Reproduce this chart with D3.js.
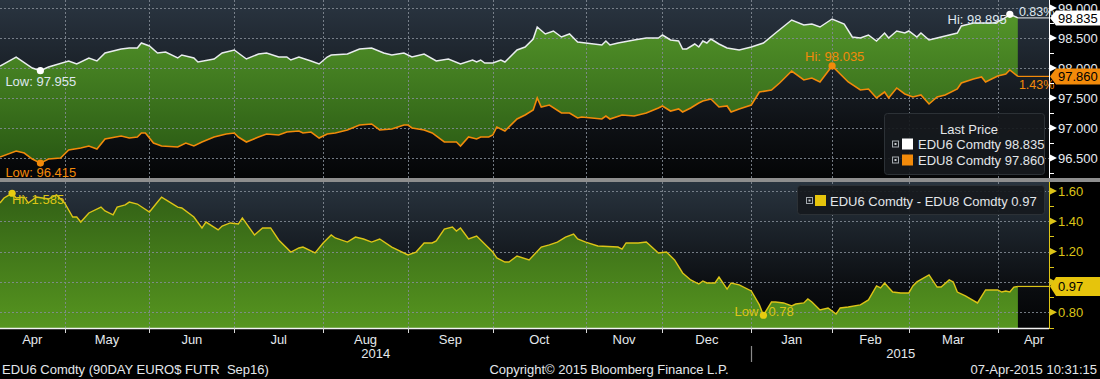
<!DOCTYPE html>
<html><head><meta charset="utf-8">
<script src="https://cdn.jsdelivr.net/npm/d3@7"></script>
<style>body{margin:0;background:#000}svg{display:block}text{font-family:"Liberation Sans",Arial,sans-serif;font-size:12.5px}</style>
</head><body><svg id="c" width="1100" height="379"></svg>
<script>
// ---- DATA (x = trading-day index from 07-Apr-2014) ----
const edu6 = [[0,98.033],[4,98.183],[8,98.000],[10,97.955],[12,98.017],[17,98.117],[19,98.067],[22,98.167],[24,98.117],[26,98.250],[30,98.317],[32,98.333],[34,98.333],[35,98.417],[37,98.367],[39,98.250],[41,98.267],[44,98.167],[45,98.217],[48,98.167],[49,98.100],[53,98.150],[55,98.250],[58,98.300],[59,98.250],[61,98.150],[64,98.233],[66,98.250],[69,98.183],[71,98.183],[72,98.133],[74,98.183],[77,98.117],[79,98.067],[81,98.183],[82,98.217],[86,98.233],[89,98.317],[92,98.333],[95,98.250],[97,98.217],[100,98.250],[102,98.183],[105,98.233],[108,98.117],[111,98.150],[114,98.067],[117,98.133],[118,98.100],[119,98.133],[120,98.083],[122,98.083],[124,98.133],[125,98.100],[128,98.300],[130,98.350],[132,98.483],[133,98.683],[135,98.567],[137,98.617],[139,98.517],[141,98.567],[143,98.433],[145,98.417],[149,98.383],[150,98.450],[151,98.383],[153,98.417],[157,98.467],[160,98.500],[163,98.500],[164,98.550],[166,98.467],[168,98.450],[169,98.317],[170,98.317],[172,98.400],[173,98.350],[174,98.450],[175,98.417],[176,98.483],[178,98.400],[180,98.333],[183,98.300],[186,98.350],[189,98.417],[192,98.583],[196,98.800],[199,98.717],[201,98.733],[203,98.683],[206,98.817],[209,98.733],[211,98.517],[213,98.500],[215,98.550],[217,98.450],[219,98.583],[220,98.500],[222,98.617],[224,98.583],[225,98.617],[227,98.517],[228,98.583],[230,98.467],[232,98.500],[234,98.533],[237,98.583],[238,98.700],[241,98.750],[243,98.750],[246,98.750],[248,98.800],[250,98.895],[252,98.835]];
const edu8 = [[0,96.517],[4,96.617],[6,96.583],[8,96.483],[10,96.415],[12,96.483],[15,96.500],[17,96.633],[20,96.667],[22,96.700],[24,96.650],[26,96.817],[30,96.867],[32,96.833],[34,96.850],[35,96.917],[36,96.917],[38,96.750],[40,96.700],[44,96.683],[46,96.750],[48,96.700],[50,96.767],[53,96.850],[56,96.900],[58,96.917],[59,96.850],[61,96.767],[64,96.850],[66,96.900],[69,96.883],[71,96.933],[74,96.950],[75,96.917],[77,96.933],[79,96.833],[81,96.900],[83,96.917],[86,96.967],[89,97.050],[92,97.067],[94,96.967],[97,96.983],[100,97.050],[101,97.050],[102,97.000],[105,96.967],[107,96.917],[110,96.767],[113,96.767],[114,96.700],[116,96.850],[118,96.817],[119,96.850],[121,96.850],[122,96.883],[123,97.017],[125,96.950],[128,97.150],[130,97.217],[132,97.300],[133,97.500],[134,97.350],[136,97.383],[139,97.250],[141,97.250],[143,97.167],[144,97.183],[149,97.150],[150,97.200],[151,97.150],[154,97.217],[157,97.200],[160,97.250],[163,97.333],[164,97.367],[166,97.283],[168,97.317],[169,97.267],[171,97.333],[173,97.417],[174,97.450],[176,97.483],[178,97.350],[180,97.367],[181,97.267],[183,97.317],[186,97.383],[188,97.600],[191,97.633],[193,97.750],[196,97.950],[199,97.800],[201,97.833],[203,97.767],[206,98.035],[210,97.767],[213,97.633],[215,97.650],[217,97.500],[219,97.600],[220,97.500],[222,97.667],[224,97.567],[226,97.517],[228,97.550],[230,97.400],[232,97.517],[234,97.550],[237,97.650],[238,97.750],[241,97.817],[243,97.850],[244,97.767],[247,97.867],[249,97.900],[250,97.967],[252,97.860]];
const spread = [[0,1.521],[1,1.554],[3,1.585],[4,1.554],[6,1.560],[7,1.521],[9,1.560],[12,1.547],[14,1.574],[16,1.521],[18,1.428],[19,1.428],[20,1.395],[22,1.455],[25,1.494],[26,1.468],[28,1.442],[29,1.494],[31,1.508],[32,1.527],[34,1.514],[37,1.461],[39,1.527],[40,1.560],[42,1.527],[44,1.494],[45,1.488],[48,1.428],[50,1.356],[51,1.395],[54,1.343],[55,1.369],[57,1.389],[59,1.382],[60,1.422],[63,1.310],[65,1.356],[67,1.356],[69,1.277],[72,1.197],[74,1.224],[75,1.230],[78,1.191],[80,1.257],[82,1.310],[83,1.290],[86,1.263],[88,1.296],[90,1.283],[92,1.263],[94,1.283],[97,1.230],[101,1.178],[103,1.197],[105,1.257],[107,1.257],[108,1.270],[110,1.349],[112,1.362],[113,1.336],[114,1.356],[116,1.283],[118,1.303],[122,1.197],[123,1.158],[125,1.131],[126,1.131],[128,1.171],[131,1.145],[134,1.230],[136,1.244],[138,1.263],[140,1.296],[142,1.316],[143,1.283],[145,1.263],[148,1.237],[153,1.230],[154,1.217],[155,1.257],[158,1.257],[160,1.263],[163,1.191],[165,1.197],[167,1.145],[169,1.059],[171,1.013],[173,0.986],[174,1.006],[175,0.993],[177,0.993],[178,1.032],[180,0.953],[181,0.993],[183,0.980],[186,0.940],[188,0.848],[189,0.780],[191,0.867],[192,0.867],[194,0.861],[196,0.841],[197,0.854],[199,0.861],[200,0.887],[201,0.867],[203,0.815],[205,0.828],[207,0.788],[208,0.828],[210,0.834],[213,0.848],[215,0.881],[217,0.973],[218,0.960],[219,0.993],[221,0.933],[223,0.927],[225,0.927],[226,0.973],[227,1.000],[230,1.046],[232,0.966],[233,0.966],[235,1.013],[236,1.000],[237,0.933],[239,0.907],[242,0.861],[244,0.947],[247,0.947],[248,0.933],[249,0.940],[250,0.933],[251,0.966],[252,0.970]];
const monthNames = ["Apr","May","Jun","Jul","Aug","Sep","Oct","Nov","Dec","Jan","Feb","Mar","Apr"];
const monthBounds = [0,16,37,58,80,101,122,145,164,186,206,225,247,265];
const years = [["2014",0,186],["2015",186,260]];
const topTicks = [96.5,97,97.5,98,98.5,99];
const topMinor = [96.25,96.75,97.25,97.75,98.25,98.75];
const botTicks = [0.8,1.0,1.2,1.4,1.6];
const botMinor = [0.9,1.1,1.3,1.5];
const lastEdu6 = 98.835, lastEdu8 = 97.860, lastSpread = 0.97;
const chg6 = "0.83%", chg8 = "1.43%";

// ---- LAYOUT ----
const svg = d3.select("#c");
const R = 1049;
const x = d3.scaleLinear().domain([0,259.7]).range([0,R]);
const yT = d3.scaleLinear().domain([96.1667,99.1333]).range([178,0]);
const yB = d3.scaleLinear().domain([0.6957,1.6594]).range([328,182]);
const C = {white:"#e9ecef", orange:"#f28a0a", yellow:"#dcc417", grid:"#858d97"};

const defs = svg.append("defs");
function lg(id,y1,y2,stops){const g=defs.append("linearGradient").attr("id",id).attr("gradientUnits","userSpaceOnUse").attr("x1",0).attr("x2",0).attr("y1",y1).attr("y2",y2);stops.forEach(([o,c])=>g.append("stop").attr("offset",o).attr("stop-color",c));}
lg("bgTop",0,178,[[0,"#2a3541"],[0.7,"#0e1115"],[1,"#040506"]]);
lg("bgBot",182,328,[[0,"#29343f"],[0.75,"#0a0c0f"],[1,"#030405"]]);
lg("grTop",0,178,[[0,"#589b2c"],[1,"#255311"]]);
lg("grBot",182,328,[[0,"#2f5c15"],[1,"#56951f"]]);

svg.append("rect").attr("width",1100).attr("height",379).attr("fill","#000");
svg.append("rect").attr("x",0).attr("y",0).attr("width",R).attr("height",178).attr("fill","url(#bgTop)");
svg.append("rect").attr("x",0).attr("y",182).attr("width",R).attr("height",146).attr("fill","url(#bgBot)");

// ---- TOP PANEL ----
defs.append("clipPath").attr("id","aboveOrange").append("path")
  .attr("d", d3.area().x(d=>x(d[0])).y0(0).y1(d=>yT(d[1]))(edu8));
svg.append("path").attr("clip-path","url(#aboveOrange)")
  .attr("d", d3.area().x(d=>x(d[0])).y0(178).y1(d=>yT(d[1]))(edu6))
  .attr("fill","url(#grTop)");

const gridT = svg.append("g").attr("stroke",C.grid).attr("stroke-dasharray","2,2").attr("stroke-width",1).attr("opacity",0.85);
topTicks.forEach(v=>gridT.append("line").attr("x1",0).attr("x2",R).attr("y1",Math.round(yT(v))+0.5).attr("y2",Math.round(yT(v))+0.5));
monthBounds.slice(1,-1).forEach(d=>gridT.append("line").attr("x1",Math.round(x(d))+0.5).attr("x2",Math.round(x(d))+0.5).attr("y1",0).attr("y2",178));

const lineT = d3.line().x(d=>x(d[0])).y(d=>yT(d[1]));
svg.append("path").attr("d",lineT(edu8)).attr("fill","none").attr("stroke",C.orange).attr("stroke-width",1.6);
svg.append("path").attr("d",lineT(edu6)).attr("fill","none").attr("stroke",C.white).attr("stroke-width",1.5);
svg.append("line").attr("x1",x(252)).attr("x2",R).attr("y1",yT(lastEdu6)).attr("y2",yT(lastEdu6)).attr("stroke","#cfd3d6").attr("stroke-width",1.2);
svg.append("line").attr("x1",x(252)).attr("x2",R).attr("y1",yT(lastEdu8)).attr("y2",yT(lastEdu8)).attr("stroke",C.orange).attr("stroke-width",1.2);

function extreme(data, fn){return data.reduce((a,b)=>fn(b[1],a[1])?b:a);}
const hi6 = extreme(edu6,(a,b)=>a>b), lo6 = extreme(edu6,(a,b)=>a<b);
const hi8 = extreme(edu8,(a,b)=>a>b), lo8 = extreme(edu8,(a,b)=>a<b);
const hiS = extreme(spread,(a,b)=>a>b), loS = extreme(spread,(a,b)=>a<b);

function dot(px,py,col){svg.append("circle").attr("cx",px).attr("cy",py).attr("r",3.6).attr("fill",col);}
function txt(s,px,py,col,anchor){return svg.append("text").attr("x",px).attr("y",py).attr("fill",col).attr("text-anchor",anchor||"start").text(s);}

dot(x(lo6[0]),yT(lo6[1]),"#fff");
txt("Low: "+lo6[1].toFixed(3),x(lo6[0])-35,yT(lo6[1])+15.5,"#dfe7ee").style("font-size","13px");
dot(x(hi6[0]),yT(hi6[1]),"#fff");
txt("Hi: "+hi6[1].toFixed(3),x(hi6[0])-3,yT(hi6[1])+10,"#dfe7ee","end").style("font-size","13px");
dot(x(hi8[0]),yT(hi8[1]),C.orange);
txt("Hi: "+hi8[1].toFixed(3),x(hi8[0])-27,yT(hi8[1])-5,C.orange).style("font-size","13px");
dot(x(lo8[0]),yT(lo8[1]),C.orange);
txt("Low: "+lo8[1].toFixed(3),x(lo8[0])-35,yT(lo8[1])+14,C.orange).style("font-size","13px");
txt(chg6,x(252)+1,yT(lastEdu6)-1.5,"#dfe7ee");
txt(chg8,x(252)+1,yT(lastEdu8)+13,C.orange);

// top legend
const lgT = svg.append("g");
lgT.append("rect").attr("x",884.5).attr("y",113.5).attr("width",160).attr("height",61).attr("rx",3).attr("fill","#16191d").attr("fill-opacity",0.92).attr("stroke","#2c3136");
lgT.append("text").attr("x",969).attr("y",134).attr("fill","#e3e6e9").attr("text-anchor","middle").style("font-size","13px").text("Last Price");
function plusIcon(g,px,py){g.append("rect").attr("x",px+0.5).attr("y",py+0.5).attr("width",6).attr("height",6).attr("fill","none").attr("stroke","#a3a9ae");g.append("rect").attr("x",px+2.5).attr("y",py+2.5).attr("width",2).attr("height",2).attr("fill","#c9cdd1");}
[[lastEdu6,"EDU6 Comdty","#ffffff",144],[lastEdu8,"EDU8 Comdty",C.orange,160]].forEach(([v,n,c,cy])=>{
  plusIcon(lgT,892,cy-3.5);
  lgT.append("rect").attr("x",902).attr("y",cy-5.5).attr("width",11).attr("height",11).attr("fill",c);
  lgT.append("text").attr("x",918).attr("y",cy+5).attr("fill","#e3e6e9").style("font-size","13px").text(n+" "+v.toFixed(3));
});

// top right axis
const axT = svg.append("g");
axT.append("line").attr("x1",R+0.5).attr("x2",R+0.5).attr("y1",0).attr("y2",178).attr("stroke","#fff");
topTicks.forEach(v=>{const yy=yT(v);
  axT.append("path").attr("d",`M${R+1},${yy-3.5}L${R+8},${yy}L${R+1},${yy+3.5}Z`).attr("fill","#fff");
  axT.append("text").attr("x",R+9).attr("y",yy).attr("dy","0.36em").attr("fill","#e6ebf0").style("font-size","13px").text(v.toFixed(3));});
topMinor.forEach(v=>axT.append("line").attr("x1",R+1).attr("x2",R+5).attr("y1",Math.round(yT(v))+0.5).attr("y2",Math.round(yT(v))+0.5).attr("stroke","#fff"));
function tag(g,v,ys,fill,label,h){const yy=ys(v),hh=h/2;
  g.append("path").attr("d",`M${R+1},${yy}L${R+7},${yy-hh}L1100,${yy-hh}L1100,${yy+hh}L${R+7},${yy+hh}Z`).attr("fill",fill);
  g.append("text").attr("x",R+9).attr("y",yy).attr("dy","0.36em").attr("fill","#000").style("font-size","13px").text(label);}
tag(axT,lastEdu6,yT,"#ffffff",lastEdu6.toFixed(3),15);
tag(axT,lastEdu8,yT,"#f28a0a",lastEdu8.toFixed(3),16);

// separator
svg.append("rect").attr("x",0).attr("y",178).attr("width",1100).attr("height",4).attr("fill","#8e8e8e");

// ---- BOTTOM PANEL ----
svg.append("path").attr("d",d3.area().x(d=>x(d[0])).y0(328).y1(d=>yB(d[1]))(spread)).attr("fill","url(#grBot)");
const gridB = svg.append("g").attr("stroke",C.grid).attr("stroke-dasharray","2,2").attr("stroke-width",1).attr("opacity",0.85);
botTicks.forEach(v=>gridB.append("line").attr("x1",0).attr("x2",R).attr("y1",Math.round(yB(v))+0.5).attr("y2",Math.round(yB(v))+0.5));
monthBounds.slice(1,-1).forEach(d=>gridB.append("line").attr("x1",Math.round(x(d))+0.5).attr("x2",Math.round(x(d))+0.5).attr("y1",182).attr("y2",328));
svg.append("path").attr("d",d3.line().x(d=>x(d[0])).y(d=>yB(d[1]))(spread)).attr("fill","none").attr("stroke",C.yellow).attr("stroke-width",1.4);
svg.append("line").attr("x1",x(252)).attr("x2",R).attr("y1",yB(lastSpread)).attr("y2",yB(lastSpread)).attr("stroke",C.yellow).attr("stroke-width",1.2);

dot(x(hiS[0]),yB(hiS[1]),"#e8cc10");
txt("Hi: "+hiS[1].toFixed(3),x(hiS[0]),yB(hiS[1])+11,C.yellow).style("font-size","13px");
dot(x(loS[0]),yB(loS[1]),"#e8cc10");
txt("Low",x(loS[0])-5,yB(loS[1])+1,C.yellow,"end").style("font-size","13px");
txt(loS[1].toFixed(2),x(loS[0])+5,yB(loS[1])+1,C.yellow).style("font-size","13px");

// bottom legend
const lgB = svg.append("g");
lgB.append("rect").attr("x",797.5).attr("y",185.5).attr("width",247).attr("height",29).attr("rx",3).attr("fill","#16191d").attr("fill-opacity",0.92).attr("stroke","#2c3136");
plusIcon(lgB,806,197);
lgB.append("rect").attr("x",815).attr("y",195).attr("width",11).attr("height",11).attr("fill","#e6c40c");
lgB.append("text").attr("x",830).attr("y",206).attr("fill","#e3e6e9").style("font-size","13px").text("EDU6 Comdty - EDU8 Comdty "+lastSpread.toFixed(2));

// bottom right axis (labels hidden behind the last-value tag are not shown, as in Bloomberg)
const axB = svg.append("g");
axB.append("line").attr("x1",R+0.5).attr("x2",R+0.5).attr("y1",182).attr("y2",329).attr("stroke",C.yellow);
axB.append("line").attr("x1",R).attr("x2",R+5).attr("y1",328.5).attr("y2",328.5).attr("stroke",C.yellow);
botTicks.forEach(v=>{const yy=yB(v);
  axB.append("path").attr("d",`M${R+1},${yy-3.5}L${R+8},${yy}L${R+1},${yy+3.5}Z`).attr("fill",C.yellow);
  if (Math.abs(yy-yB(lastSpread))>6)
    axB.append("text").attr("x",R+9).attr("y",yy).attr("dy","0.36em").attr("fill",C.yellow).style("font-size","13px").text(v.toFixed(2));});
botMinor.forEach(v=>axB.append("line").attr("x1",R+1).attr("x2",R+5).attr("y1",Math.round(yB(v))+0.5).attr("y2",Math.round(yB(v))+0.5).attr("stroke",C.yellow));
tag(axB,lastSpread,yB,"#e6c40c",lastSpread.toFixed(2),19);

// ---- X AXIS ----
svg.append("line").attr("x1",0).attr("x2",R).attr("y1",328.5).attr("y2",328.5).attr("stroke","#f2f2f2").attr("stroke-width",1.5);
monthBounds.slice(1,-1).forEach(d=>svg.append("line").attr("x1",Math.round(x(d))+0.5).attr("x2",Math.round(x(d))+0.5).attr("y1",328).attr("y2",333).attr("stroke","#d8d8d8"));
monthNames.forEach((m,i)=>txt(m,x((monthBounds[i]+monthBounds[i+1])/2),344,"#e4e8ec","middle").style("font-size","13px"));
years.forEach(([yl,a,b])=>txt(yl,x((a+b)/2),358,"#e4e8ec","middle").style("font-size","13px"));
svg.append("line").attr("x1",Math.round(x(186))+0.5).attr("x2",Math.round(x(186))+0.5).attr("y1",346).attr("y2",362).attr("stroke","#8a8a8a").attr("stroke-width",1.2);

txt("EDU6 Comdty (90DAY EURO$ FUTR  Sep16)",2,374,"#e4e8ec").attr("xml:space","preserve").style("white-space","pre").style("font-size","13px");
txt("Copyright\u00A9 2015 Bloomberg Finance L.P.",609,374,"#e4e8ec","middle").style("font-size","13px");
txt("07-Apr-2015 10:31:15",1097,374,"#e4e8ec","end").style("font-size","13px");
</script></body></html>
